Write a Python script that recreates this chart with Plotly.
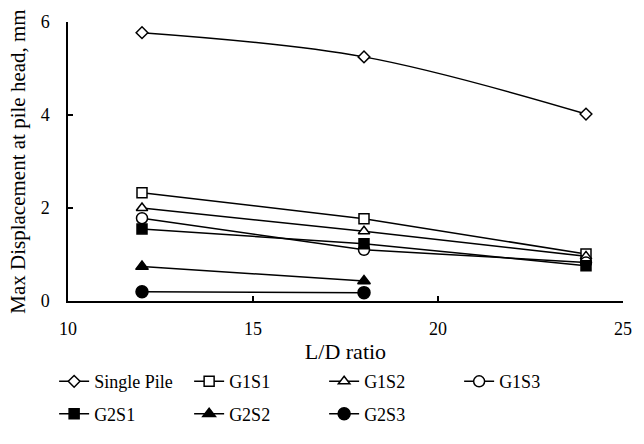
import plotly.graph_objects as go

# L/D ratios and maximum pile-head displacement (mm)
ld_ratio = [12, 18, 24]
ld_ratio_g2 = [12, 18]

single_pile = [5.77, 5.25, 4.02]
g1s1 = [2.33, 1.77, 1.01]
g1s2 = [2.00, 1.50, 0.96]
g1s3 = [1.78, 1.10, 0.83]
g2s1 = [1.55, 1.23, 0.76]
g2s2 = [0.74, 0.43]
g2s3 = [0.20, 0.18]

x_ticks = [10, 15, 20, 25]
y_ticks = [0, 2, 4, 6]

FONT = "Liberation Serif, Times New Roman, serif"
BLACK = "#000000"

series = [
    # name, x, y, symbol, size, fill, legend, line shape
    ("Single Pile", ld_ratio, single_pile, "diamond", 9, "white", "legend", "spline"),
    ("G1S1", ld_ratio, g1s1, "square", 10, "white", "legend", "linear"),
    ("G1S2", ld_ratio, g1s2, "triangle-up", 10, "white", "legend", "linear"),
    ("G1S3", ld_ratio, g1s3, "circle", 11, "white", "legend", "linear"),
    ("G2S1", ld_ratio, g2s1, "square", 10, BLACK, "legend2", "linear"),
    ("G2S2", ld_ratio_g2, g2s2, "triangle-up", 11, BLACK, "legend2", "linear"),
    ("G2S3", ld_ratio_g2, g2s3, "circle", 12, BLACK, "legend2", "linear"),
]

fig = go.Figure()
for name, xs, ys, sym, size, fill, leg, shape in series:
    fig.add_trace(go.Scatter(
        x=xs, y=ys, name=name, mode="lines+markers",
        line=dict(color=BLACK, width=1.5, shape=shape),
        marker=dict(symbol=sym, size=size, color=fill,
                    line=dict(color=BLACK, width=1.5)),
        legend=leg,
    ))

legend_common = dict(
    orientation="h", xanchor="left", yanchor="middle",
    x=-0.025, entrywidth=90, entrywidthmode="pixels",
    font=dict(family=FONT, size=18, color=BLACK),
    bgcolor="rgba(0,0,0,0)", borderwidth=0,
)

axis_common = dict(
    ticks="inside", ticklen=5, tickwidth=1.5, tickcolor=BLACK,
    showline=True, linecolor=BLACK, linewidth=1.5,
    showgrid=False, zeroline=False,
    tickfont=dict(family=FONT, size=18, color=BLACK),
)

fig.update_layout(
    width=644, height=444,
    margin=dict(l=68, r=21, t=20, b=130),
    paper_bgcolor="white", plot_bgcolor="white",
    font=dict(family=FONT, color=BLACK),
    legend=dict(y=-0.289, **legend_common),
    legend2=dict(y=-0.405, **legend_common),
    xaxis=dict(
        range=[10, 25], tickvals=x_ticks, ticklabelstandoff=11,
        title=dict(text="L/D ratio", font=dict(family=FONT, size=22, color=BLACK),
                   standoff=5),
        **axis_common,
    ),
    yaxis=dict(
        range=[0, 6], tickvals=y_ticks, ticklabelstandoff=13,
        title=dict(text="Max Displacement at pile head, mm",
                   font=dict(family=FONT, size=21, color=BLACK), standoff=9),
        **axis_common,
    ),
)

fig.write_html("out.html")
